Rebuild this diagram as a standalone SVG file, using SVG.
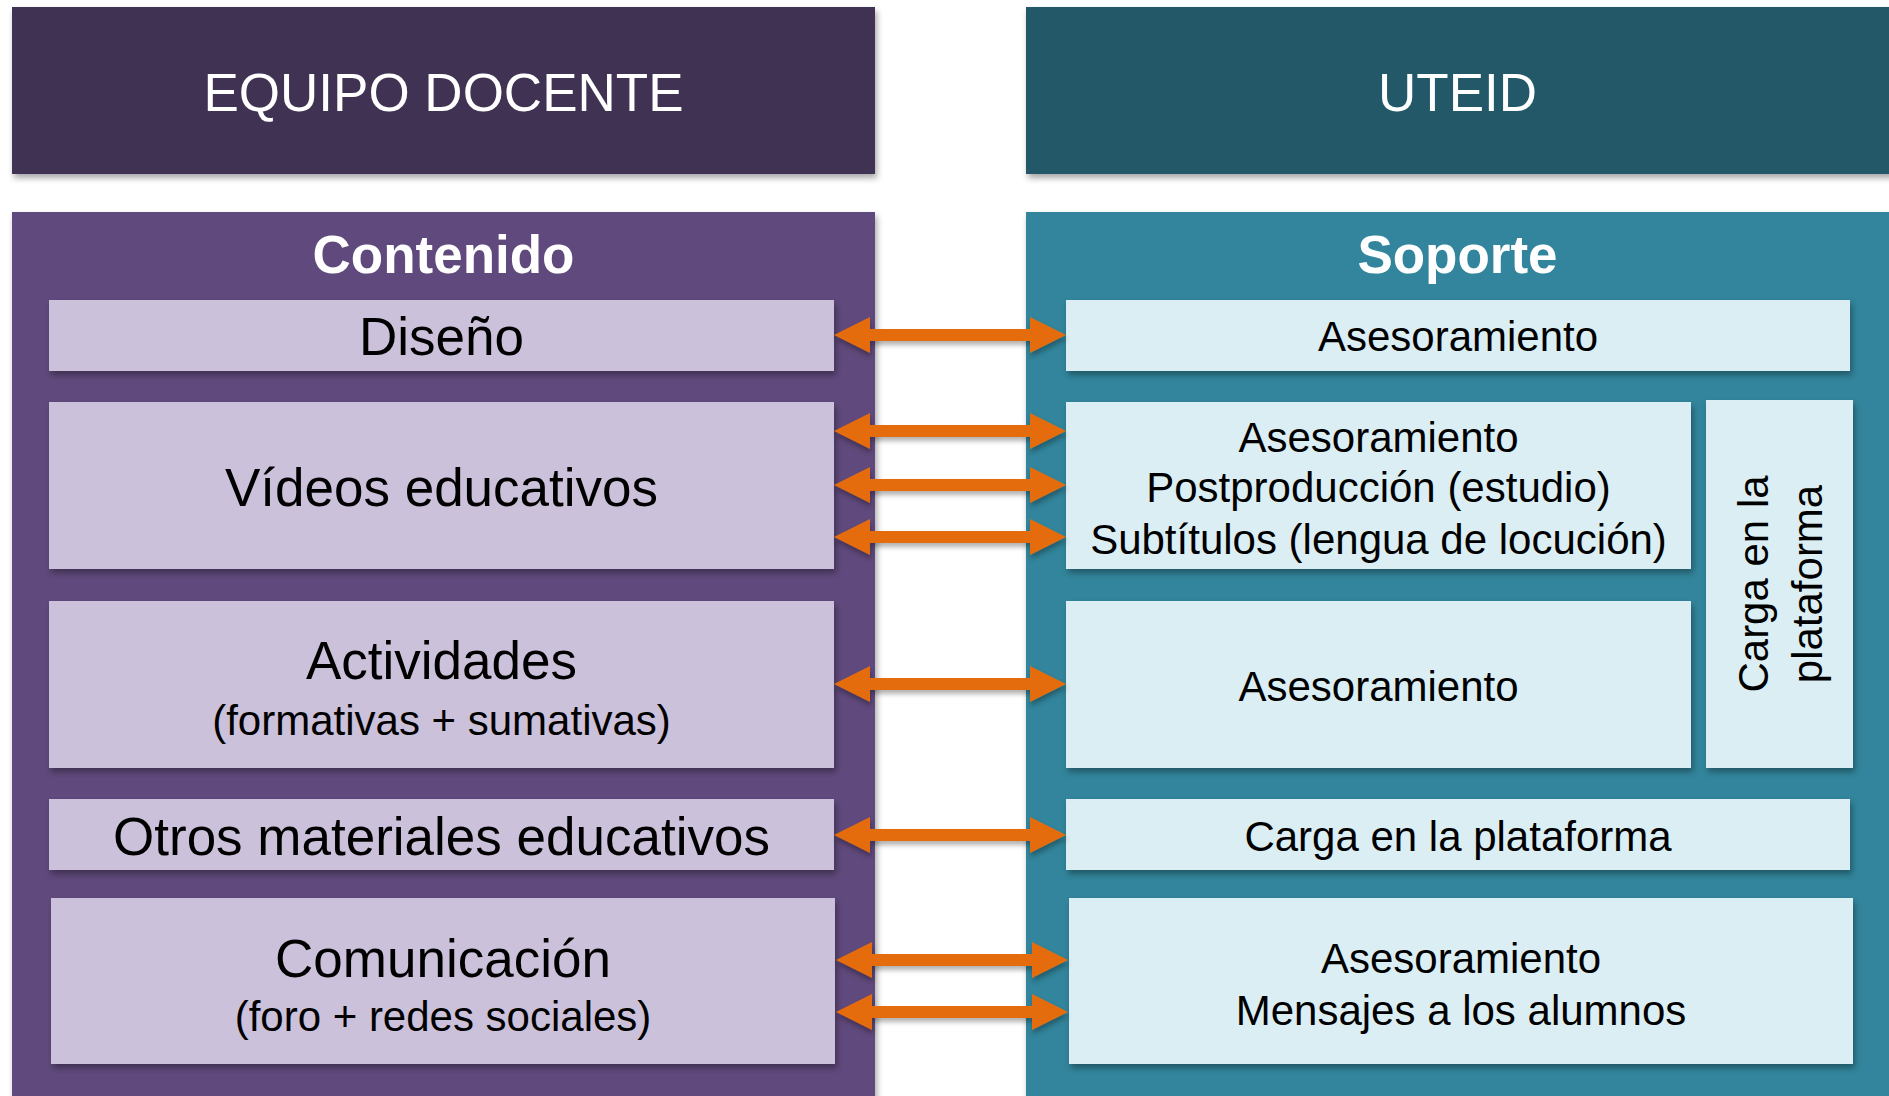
<svg xmlns="http://www.w3.org/2000/svg" width="1889" height="1096" viewBox="0 0 1889 1096">
<defs>
<filter id="sh" x="-10%" y="-10%" width="130%" height="140%">
<feDropShadow dx="2" dy="4" stdDeviation="3" flood-color="#000" flood-opacity="0.35"/>
</filter>
<filter id="ash" x="-10%" y="-50%" width="120%" height="250%">
<feDropShadow dx="1" dy="4" stdDeviation="2.5" flood-color="#000" flood-opacity="0.3"/>
</filter>
<path id="arr" d="M0,0 L36,-18 L36,-6 L196,-6 L196,-18 L232,0 L196,18 L196,6 L36,6 L36,18 Z"/>
</defs>
<style>
text{font-family:"Liberation Sans",Arial,sans-serif;text-anchor:middle}
.hdr{font-size:53px;fill:#fff}
.ttl{font-size:53px;fill:#fff;font-weight:bold}
.big{font-size:53px;fill:#000}
.sm{font-size:42px;fill:#000}
.lb{fill:#CCC1DA}
.rb{fill:#DBEEF4}
.arrow{fill:#E46C0A}
</style>
<rect width="1889" height="1096" fill="#fff"/>

<g id="header-equipo" filter="url(#sh)">
<rect x="12" y="7" width="863" height="167" fill="#403152"/>
<text class="hdr" x="443.5" y="111">EQUIPO DOCENTE</text>
</g>
<g id="header-uteid" filter="url(#sh)">
<rect x="1026" y="7" width="870" height="167" fill="#215968"/>
<text class="hdr" x="1457.5" y="111">UTEID</text>
</g>

<g id="panel-contenido">
<rect x="12" y="212" width="863" height="890" fill="#604A7B" filter="url(#sh)"/>
<text class="ttl" x="443.5" y="273">Contenido</text>
</g>
<g id="panel-soporte">
<rect x="1026" y="212" width="870" height="890" fill="#31859C" filter="url(#sh)"/>
<text class="ttl" x="1457.5" y="273">Soporte</text>
</g>

<g id="c-diseno">
<rect class="lb" x="49" y="300" width="785" height="71" filter="url(#sh)"/>
<text class="big" x="441.5" y="355">Diseño</text>
</g>
<g id="c-videos">
<rect class="lb" x="49" y="402" width="785" height="167" filter="url(#sh)"/>
<text class="big" x="441.5" y="506">Vídeos educativos</text>
</g>
<g id="c-actividades">
<rect class="lb" x="49" y="601" width="785" height="167" filter="url(#sh)"/>
<text class="big" x="441.5" y="679">Actividades</text>
<text class="sm" x="441.5" y="735">(formativas + sumativas)</text>
</g>
<g id="c-otros">
<rect class="lb" x="49" y="799" width="785" height="71" filter="url(#sh)"/>
<text class="big" x="441.5" y="855">Otros materiales educativos</text>
</g>
<g id="c-comunicacion">
<rect class="lb" x="51" y="898" width="784" height="166" filter="url(#sh)"/>
<text class="big" x="443" y="977">Comunicación</text>
<text class="sm" x="443" y="1031">(foro + redes sociales)</text>
</g>

<g id="s-asesoramiento">
<rect class="rb" x="1066" y="300" width="784" height="71" filter="url(#sh)"/>
<text class="sm" x="1458" y="351">Asesoramiento</text>
</g>
<g id="s-videos">
<rect class="rb" x="1066" y="402" width="625" height="167" filter="url(#sh)"/>
<text class="sm" x="1378.5" y="452">Asesoramiento</text>
<text class="sm" x="1378.5" y="502">Postproducción (estudio)</text>
<text class="sm" x="1378.5" y="554">Subtítulos (lengua de locución)</text>
</g>
<g id="s-actividades">
<rect class="rb" x="1066" y="601" width="625" height="167" filter="url(#sh)"/>
<text class="sm" x="1378.5" y="701">Asesoramiento</text>
</g>
<g id="s-carga-vertical">
<rect class="rb" x="1706" y="400" width="147" height="368" filter="url(#sh)"/>
<text class="sm" font-size="41" transform="translate(1768,584) rotate(-90)" x="0" y="0">Carga en la</text>
<text class="sm" font-size="41" transform="translate(1822,584) rotate(-90)" x="0" y="0">plataforma</text>
</g>
<g id="s-carga">
<rect class="rb" x="1066" y="799" width="784" height="71" filter="url(#sh)"/>
<text class="sm" x="1458" y="851">Carga en la plataforma</text>
</g>
<g id="s-comunicacion">
<rect class="rb" x="1069" y="898" width="784" height="166" filter="url(#sh)"/>
<text class="sm" x="1461" y="973">Asesoramiento</text>
<text class="sm" x="1461" y="1025">Mensajes a los alumnos</text>
</g>

<g id="connectors" class="arrow" filter="url(#ash)">
<use href="#arr" x="834" y="335"/>
<use href="#arr" x="834" y="431"/>
<use href="#arr" x="834" y="485"/>
<use href="#arr" x="834" y="537"/>
<use href="#arr" x="834" y="684"/>
<use href="#arr" x="834" y="835"/>
<use href="#arr" x="836" y="960"/>
<use href="#arr" x="836" y="1012"/>
</g>
</svg>
